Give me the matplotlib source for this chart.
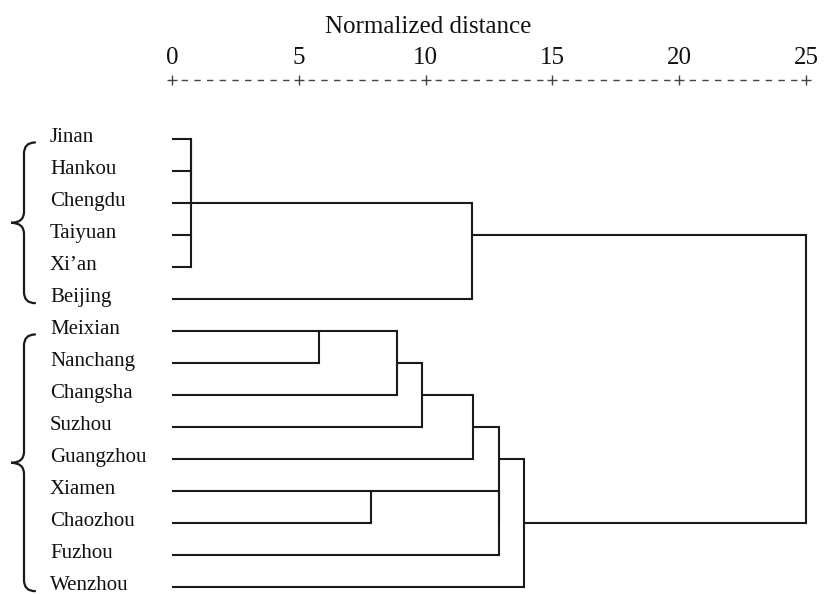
import matplotlib
matplotlib.use('Agg')
import matplotlib.pyplot as plt
from matplotlib.path import Path
from matplotlib.patches import PathPatch

# Ordem das folhas (de cima para baixo)
cidades = ['Jinan', 'Hankou', 'Chengdu', 'Taiyuan', 'Xi\u2019an', 'Beijing',
           'Meixian', 'Nanchang', 'Changsha', 'Suzhou', 'Guangzhou',
           'Xiamen', 'Chaozhou', 'Fuzhou', 'Wenzhou']

# Fusoes: (filho_a, filho_b, distancia) - indices >= 15 sao fusoes anteriores
fusoes = [
    (0, 1, 0.75),
    (3, 4, 0.75),
    (15, 2, 0.75),
    (17, 16, 0.75),
    (6, 7, 5.80),
    (19, 8, 8.87),
    (20, 9, 9.86),
    (21, 10, 11.87),
    (18, 5, 11.83),
    (11, 12, 7.85),
    (24, 13, 12.89),
    (22, 25, 12.89),
    (26, 14, 13.88),
    (23, 27, 25.0),
]

grupos = [(0, 5), (6, 14)]   # chaves do lado esquerdo
ticks = [0, 5, 10, 15, 20, 25]
titulo = 'Normalized distance'

fonte = 'Liberation Serif'
cor = '#1a1a1a'

# Escala: pixel -> dados
x0px, ppu = 172, 25.36
y0px, ppr = 139.3, 32.0
W, H = 826, 594

fig = plt.figure(figsize=(W / 100, H / 100), dpi=100)
ax = fig.add_axes([0, 0, 1, 1])
ax.set_xlim(-x0px / ppu, (W - x0px) / ppu)
ax.set_ylim((H - y0px) / ppr, -y0px / ppr)
ax.axis('off')

# Dendrograma
n = len(cidades)
linha = {i: i for i in range(n)}
altura = {i: 0.0 for i in range(n)}
for k, (a, b, d) in enumerate(fusoes):
    for c in (a, b):
        ax.plot([altura[c], d], [linha[c], linha[c]], color=cor, lw=1.5,
                solid_capstyle='butt')
    ax.plot([d, d], [linha[a], linha[b]], color=cor, lw=1.5,
            solid_capstyle='projecting')
    linha[n + k] = (linha[a] + linha[b]) // 2
    altura[n + k] = d

# Nomes
xl = (50 - x0px) / ppu
for i, nome in enumerate(cidades):
    ax.text(xl, i + 0.07, nome, fontsize=15, family=fonte,
            ha='left', va='baseline', color='#111111')

# Chaves
def chave(y0, y1):
    xs, xt, xe = (24 - x0px) / ppu, (11 - x0px) / ppu, (35 - x0px) / ppu
    ym = (y0 + y1) / 2
    dd = 0.35
    verts = [(xe, y0), (xs, y0), (xs, y0 + dd),
             (xs, ym - dd),
             (xs, ym), (xt, ym),
             (xs, ym), (xs, ym + dd),
             (xs, y1 - dd),
             (xs, y1), (xe, y1)]
    codes = [Path.MOVETO, Path.CURVE3, Path.CURVE3,
             Path.LINETO,
             Path.CURVE3, Path.CURVE3,
             Path.CURVE3, Path.CURVE3,
             Path.LINETO,
             Path.CURVE3, Path.CURVE3]
    ax.add_patch(PathPatch(Path(verts, codes), fill=False, lw=1.6,
                           edgecolor=cor, capstyle='round'))

for a, b in grupos:
    chave(a + 0.1, b + 0.12)

# Eixo superior
y_tick = (64 - y0px) / ppr
y_mais = (80 - y0px) / ppr
y_tit = (33 - y0px) / ppr
for t in ticks:
    ax.text(t, y_tick, str(t), fontsize=18, family=fonte, ha='center',
            va='baseline', color='#111111')
ax.plot(ticks, [y_mais] * len(ticks), ls='none', marker='+', ms=7,
        mew=1.0, color='#444444')
slot = 0.5
dash_pt = 4.6
slot_pt = slot * ppu * 0.72
for t0, t1 in zip(ticks[:-1], ticks[1:]):
    ax.plot([t0 + slot / 2, t1 - slot / 2], [y_mais, y_mais], color='#444444',
            lw=1.0, ls=(dash_pt + (slot_pt - dash_pt) / 2,
                        (dash_pt, slot_pt - dash_pt)))
ax.text(10.1, y_tit, titulo, fontsize=18, family=fonte, ha='center',
        va='baseline', color='#111111')

fig.savefig('out.png', dpi=100)
